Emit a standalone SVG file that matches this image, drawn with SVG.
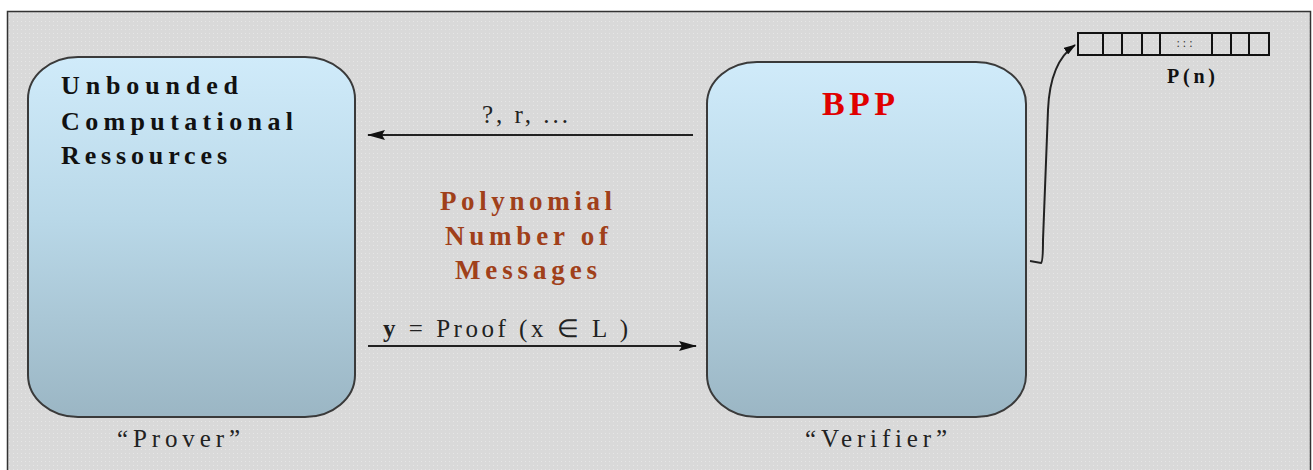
<svg xmlns="http://www.w3.org/2000/svg" width="1313" height="470" viewBox="0 0 1313 470">
  <defs>
    <linearGradient id="boxFill" x1="0" y1="0" x2="0" y2="1">
      <stop offset="0" stop-color="#d0ebfa"/>
      <stop offset="0.45" stop-color="#b9d8e8"/>
      <stop offset="1" stop-color="#9bb6c4"/>
    </linearGradient>
    <pattern id="dots" width="4" height="4" patternUnits="userSpaceOnUse">
      <rect width="4" height="4" fill="#d9d9d9"/>
      <rect x="1" y="1" width="1" height="1" fill="#e6e6e6"/>
    </pattern>
    <marker id="head" viewBox="0 0 12 8" refX="11" refY="4" markerWidth="12" markerHeight="8" markerUnits="userSpaceOnUse" orient="auto">
      <path d="M0,0 L12,4 L0,8 Z" fill="#111"/>
    </marker>
    <marker id="headBig" viewBox="0 0 18 10" refX="17" refY="5" markerWidth="18" markerHeight="10" markerUnits="userSpaceOnUse" orient="auto">
      <path d="M0,0 L18,5 L0,10 L3,5 Z" fill="#111"/>
    </marker>
  </defs>
  <style>
    .serif { font-family: "Liberation Serif", "Times New Roman", serif; }
    .box { fill: url(#boxFill); stroke: #3a3a3a; stroke-width: 2; }
    .title { font-weight: bold; font-size: 26px; fill: #111; }
    .msg { font-weight: bold; font-size: 27px; fill: #a0401a; }
    .plain { font-size: 25px; fill: #222; }
    .wire { stroke: #222; stroke-width: 2; fill: none; }
    .cell { fill: none; stroke: #111; stroke-width: 2; }
  </style>

  <!-- page background and frame -->
  <rect x="0" y="0" width="1313" height="470" fill="#ffffff"/>
  <rect x="7.5" y="11.5" width="1303" height="470" fill="url(#dots)" stroke="#333" stroke-width="1.5"/>

  <!-- prover -->
  <g id="prover">
    <rect class="box" x="28" y="57" width="327" height="360" rx="50" ry="42"/>
    <text class="serif title" x="61" y="94" textLength="177" lengthAdjust="spacing">Unbounded</text>
    <text class="serif title" x="61" y="130" textLength="232" lengthAdjust="spacing">Computational</text>
    <text class="serif title" x="61" y="164" textLength="166" lengthAdjust="spacing">Ressources</text>
    <text class="serif plain" x="117" y="447" textLength="123" lengthAdjust="spacing">“Prover”</text>
  </g>

  <!-- verifier -->
  <g id="verifier">
    <rect class="box" x="707" y="62" width="319" height="355" rx="50" ry="42"/>
    <text class="serif" x="822" y="115" font-size="34" font-weight="bold" fill="#e00000" textLength="73" lengthAdjust="spacing">BPP</text>
    <text class="serif plain" x="805" y="447" textLength="142" lengthAdjust="spacing">“Verifier”</text>
  </g>

  <!-- random tape of length P(n) -->
  <g id="tape">
    <rect class="cell" x="1078" y="33" width="191" height="22"/>
    <path class="cell" d="M1103,33 V55 M1122,33 V55 M1142,33 V55 M1160,33 V55 M1212,33 V55 M1231,33 V55 M1249,33 V55"/>
    <text class="serif" x="1186" y="47" font-size="12" fill="#333" text-anchor="middle" letter-spacing="3">:::</text>
    <text class="serif" x="1167" y="83" font-size="20" font-weight="bold" fill="#111" textLength="48" lengthAdjust="spacing">P(n)</text>
  </g>

  <!-- message exchange -->
  <g id="exchange">
    <text class="serif plain" x="482" y="123" textLength="86" lengthAdjust="spacing">?, r, ...</text>
    <text class="serif msg" x="440" y="210" textLength="172" lengthAdjust="spacing">Polynomial</text>
    <text class="serif msg" x="445" y="245" textLength="163" lengthAdjust="spacing">Number of</text>
    <text class="serif msg" x="455" y="279" textLength="142" lengthAdjust="spacing">Messages</text>
    <text class="serif plain" x="383" y="337" textLength="245" lengthAdjust="spacing"><tspan font-weight="bold">y</tspan> = Proof (x ∈ L )</text>
  </g>

  <!-- connectors -->
  <g id="connectors">
    <line class="wire" x1="693" y1="135" x2="368" y2="135" marker-end="url(#headBig)"/>
    <line class="wire" x1="368" y1="346" x2="696" y2="346" marker-end="url(#headBig)"/>
    <path class="wire" d="M1030,261 L1041,263 Q1043,262 1043,240 L1048,110 Q1050,62 1075,45" marker-end="url(#head)"/>
  </g>
</svg>
